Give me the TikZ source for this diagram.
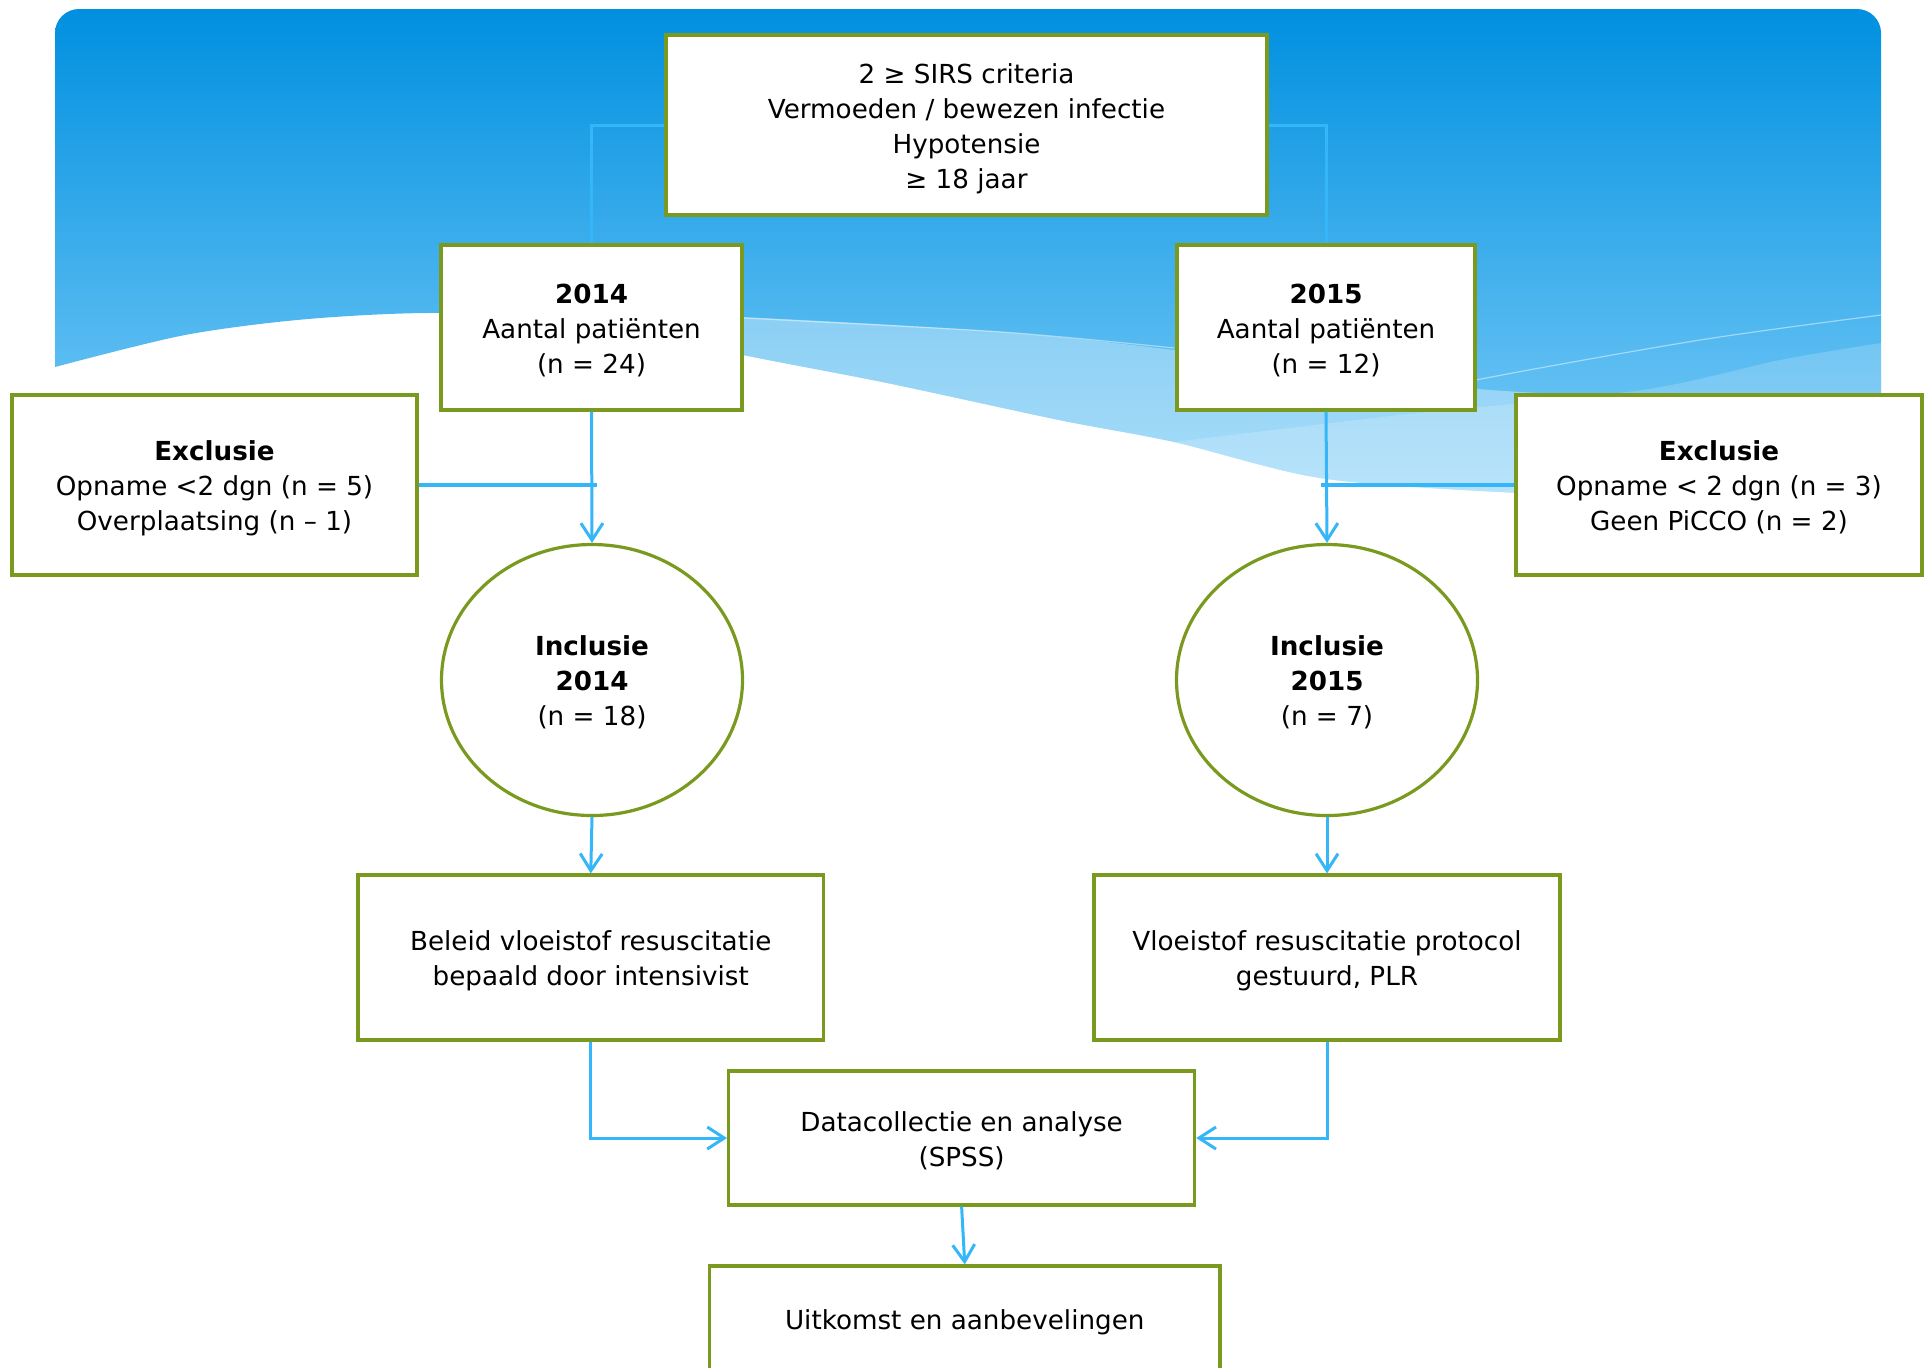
\documentclass[tikz,border=0pt]{standalone}
\usepackage{fontspec}
\setmainfont{DejaVu Sans}
\usetikzlibrary{arrows.meta,shapes.geometric}
\definecolor{boxgreen}{RGB}{122,154,31}
\definecolor{linkblue}{RGB}{53,182,248}
\definecolor{bgtop}{RGB}{0,144,224}
\definecolor{bgbot}{RGB}{125,205,248}
\newcommand{\boxtext}[1]{\raisebox{-1.8pt}[\height][\depth]{\begin{tabular}{@{}c@{}}#1\end{tabular}}}
\begin{document}
\begin{tikzpicture}[x=0.5pt,y=-0.5pt,
  box/.style={draw=boxgreen, line width=1.6pt, fill=white, inner sep=0pt,
    font=\fontsize{13.1pt}{17.5pt}\selectfont},
  oval/.style={box, ellipse},
  link/.style={draw=linkblue, line width=1.5pt},
  thicklink/.style={draw=linkblue, line width=2.2pt},
  arr/.style={link, -{Straight Barb[length=8.5pt,width=11pt]}},
]
\useasboundingbox (0,0) rectangle (1930,1367);

% background
\shade[top color=bgtop, bottom color=bgbot]
  (55,367) -- (55,200) [rounded corners=12pt] -- (55,9) -- (1881,9) -- (1881,200) [sharp corners] -- (1881,500)
  -- plot[smooth] coordinates {(1881,500) (1700,498) (1500,492) (1320,478) (1174,442) (1059,420) (887,383) (743,355) (590,322) (440,313) (308,319) (185,335) (55,367)} -- cycle;
\fill[white,opacity=0.35]
  plot[smooth] coordinates {(440,313) (590,312) (743,317) (1002,332) (1174,350) (1320,372) (1490,390) (1700,400) (1881,405)}
  -- (1881,500)
  -- plot[smooth] coordinates {(1881,500) (1700,498) (1500,492) (1320,478) (1174,442) (1059,420) (887,383) (743,355) (590,322) (440,313)} -- cycle;
\fill[white,opacity=0.18]
  plot[smooth] coordinates {(1174,442) (1400,415) (1642,390) (1780,360) (1881,343)}
  -- (1881,500)
  -- plot[smooth] coordinates {(1881,500) (1700,498) (1500,492) (1320,478) (1174,442)} -- cycle;
\draw[white,opacity=0.45,line width=0.6pt]
  plot[smooth] coordinates {(1400,400) (1476,380) (1700,340) (1881,315)};
\draw[white,opacity=0.45,line width=0.6pt]
  plot[smooth] coordinates {(743,318) (1002,332) (1174,348)};

% nodes
\node[box, minimum width=300.5pt, minimum height=90pt] (top) at (966.5,125)
  {\boxtext{2 ≥ SIRS criteria\\Vermoeden / bewezen infectie\\Hypotensie\\≥ 18 jaar}};
\node[box, minimum width=150.5pt, minimum height=82.5pt] (y14) at (591.5,327.5)
  {\boxtext{\textbf{2014}\\Aantal patiënten\\(n = 24)}};
\node[box, minimum width=149pt, minimum height=82.5pt] (y15) at (1326,327.5)
  {\boxtext{\textbf{2015}\\Aantal patiënten\\(n = 12)}};
\node[box, minimum width=202.5pt, minimum height=90pt] (exL) at (214.5,485)
  {\boxtext{\textbf{Exclusie}\\Opname <2 dgn (n = 5)\\Overplaatsing (n – 1)}};
\node[box, minimum width=203pt, minimum height=90pt] (exR) at (1719,485)
  {\boxtext{\textbf{Exclusie}\\Opname < 2 dgn (n = 3)\\Geen PiCCO (n = 2)}};
\node[oval, minimum width=150.5pt, minimum height=135.5pt] (in14) at (592,680)
  {\boxtext{\textbf{Inclusie}\\\textbf{2014}\\(n = 18)}};
\node[oval, minimum width=150.5pt, minimum height=135.5pt] (in15) at (1327,680)
  {\boxtext{\textbf{Inclusie}\\\textbf{2015}\\(n = 7)}};
\node[box, minimum width=232.75pt, minimum height=82.5pt] (beleid) at (590.75,957.5)
  {\boxtext{Beleid vloeistof resuscitatie\\bepaald door intensivist}};
\node[box, minimum width=233pt, minimum height=82.5pt] (vloei) at (1327,957.5)
  {\boxtext{Vloeistof resuscitatie protocol\\gestuurd, PLR}};
\node[box, minimum width=233pt, minimum height=67pt] (data) at (961.6,1138)
  {\boxtext{Datacollectie en analyse\\(SPSS)}};
\node[box, minimum width=255.25pt, minimum height=53pt] (uitk) at (964.75,1319)
  {\boxtext{Uitkomst en aanbevelingen}};

\coordinate (jL) at (597,485);
\coordinate (jR) at (1321,485);

% connectors
\draw[link] (top.west) -| (y14.north);
\draw[link] (top.east) -| (y15.north);
\draw[arr] (y14.south) -- (in14.north);
\draw[arr] (y15.south) -- (in15.north);
\draw[thicklink] (exL.east) -- (jL);
\draw[thicklink] (exR.west) -- (jR);
\draw[arr] (in14.south) -- (beleid.north);
\draw[arr] (in15.south) -- (vloei.north);
\draw[arr] (beleid.south) |- (data.west);
\draw[arr] (vloei.south) |- (data.east);
\draw[arr] (data.south) -- (uitk.north);
\end{tikzpicture}
\end{document}
